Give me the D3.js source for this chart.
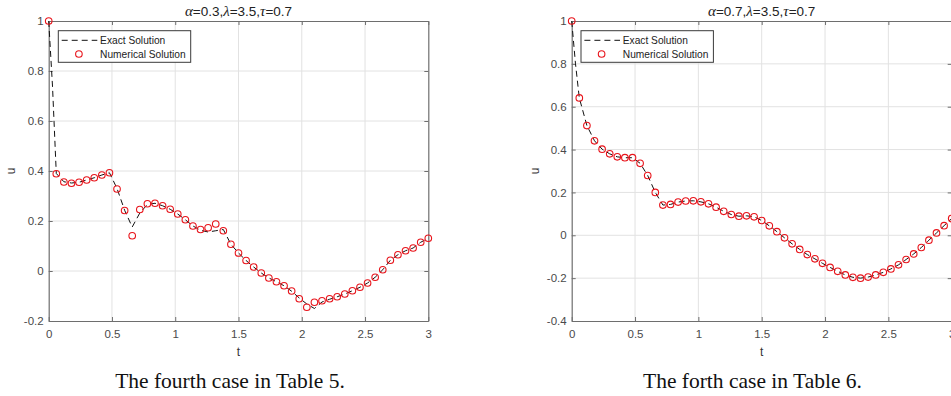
<!DOCTYPE html>
<html>
<head>
<meta charset="utf-8">
<script src="https://cdn.jsdelivr.net/npm/d3@7"></script>
<style>
  body { margin: 0; background: #fff; }
  svg text { font-family: Arial, "Liberation Sans", Helvetica, sans-serif; }
</style>
</head>
<body>
<svg id="chart" width="951" height="396"></svg>
<script>
// time grid of the numerical solution (step 0.06)
const tNum = [0, 0.06, 0.12, 0.18, 0.24, 0.30, 0.36, 0.42, 0.48, 0.54, 0.60, 0.66, 0.72, 0.78, 0.84, 0.90,
  0.96, 1.02, 1.08, 1.14, 1.20, 1.26, 1.32, 1.38, 1.44, 1.50, 1.56, 1.62, 1.68, 1.74, 1.80, 1.86, 1.92,
  1.98, 2.04, 2.10, 2.16, 2.22, 2.28, 2.34, 2.40, 2.46, 2.52, 2.58, 2.64, 2.70, 2.76, 2.82, 2.88, 2.94, 3.00];

// time grid of the exact solution curves
const tExact = [0, 0.03, 0.06, 0.12, 0.18, 0.24, 0.30, 0.36, 0.42, 0.48, 0.54, 0.60, 0.66, 0.72, 0.78, 0.84, 0.90,
  0.96, 1.02, 1.08, 1.14, 1.20, 1.26, 1.32, 1.38, 1.44, 1.50, 1.56, 1.62, 1.68, 1.74, 1.80, 1.86, 1.92,
  1.98, 2.04, 2.10, 2.16, 2.22, 2.28, 2.34, 2.40, 2.46, 2.52, 2.58, 2.64, 2.70, 2.76, 2.82, 2.88, 2.94, 3.00];

// case 4, Table 5 (alpha = 0.3)
const numU1 = [1, 0.389, 0.356, 0.351, 0.355, 0.364, 0.373, 0.384, 0.393, 0.328, 0.242, 0.141, 0.246, 0.269,
  0.271, 0.261, 0.247, 0.228, 0.205, 0.180, 0.166, 0.173, 0.188, 0.161, 0.107, 0.072, 0.042, 0.016, -0.008,
  -0.028, -0.043, -0.059, -0.080, -0.111, -0.145, -0.125, -0.119, -0.111, -0.103, -0.092, -0.079, -0.065,
  -0.048, -0.025, 0.005, 0.043, 0.065, 0.081, 0.092, 0.115, 0.131];
const exactU1 = [1, 0.74, 0.390, 0.357, 0.352, 0.355, 0.364, 0.373, 0.384, 0.393, 0.330, 0.243, 0.176, 0.232,
  0.266, 0.271, 0.261, 0.247, 0.228, 0.205, 0.180, 0.163, 0.156, 0.161, 0.166, 0.107, 0.072, 0.042, 0.016,
  -0.008, -0.028, -0.043, -0.059, -0.081, -0.108, -0.132, -0.150, -0.124, -0.113, -0.103, -0.092, -0.079,
  -0.065, -0.048, -0.025, 0.005, 0.043, 0.065, 0.081, 0.092, 0.115, 0.131];

// case 4, Table 6 (alpha = 0.7)
const numU2 = [1, 0.641, 0.512, 0.441, 0.402, 0.380, 0.366, 0.362, 0.362, 0.336, 0.279, 0.200, 0.141, 0.144,
  0.155, 0.160, 0.161, 0.156, 0.147, 0.131, 0.112, 0.097, 0.089, 0.091, 0.086, 0.069, 0.044, 0.017, -0.012,
  -0.040, -0.066, -0.090, -0.110, -0.131, -0.150, -0.168, -0.185, -0.196, -0.200, -0.195, -0.185, -0.173,
  -0.157, -0.138, -0.113, -0.087, -0.057, -0.023, 0.011, 0.045, 0.078];
const exactU2 = [1, 0.80, 0.641, 0.512, 0.441, 0.402, 0.380, 0.366, 0.362, 0.362, 0.336, 0.279, 0.200, 0.141,
  0.144, 0.155, 0.160, 0.161, 0.156, 0.147, 0.131, 0.112, 0.097, 0.089, 0.091, 0.086, 0.069, 0.044, 0.017,
  -0.012, -0.040, -0.066, -0.090, -0.110, -0.131, -0.150, -0.168, -0.185, -0.196, -0.200, -0.195, -0.185,
  -0.173, -0.157, -0.138, -0.113, -0.087, -0.057, -0.023, 0.011, 0.045, 0.078];

const xTicks = [0, 0.5, 1, 1.5, 2, 2.5, 3];
const yTicks1 = [-0.2, 0, 0.2, 0.4, 0.6, 0.8, 1];
const yTicks2 = [-0.4, -0.2, 0, 0.2, 0.4, 0.6, 0.8, 1];
const alphas = ['0.3', '0.7'];
const captions = ['The fourth case in Table 5.', 'The forth case in Table 6.'];
const legendLabels = ['Exact Solution', 'Numerical Solution'];

const svg = d3.select('#chart');

const panels = [
  { left: 48.7, right: 428.3, yDomain: [-0.2, 1], yTicks: yTicks1, exact: exactU1, num: numU1,
    alpha: alphas[0], caption: captions[0], capX: 230, ylabX: 15, legX: 58.3 },
  { left: 571.7, right: 951.7, yDomain: [-0.4, 1], yTicks: yTicks2, exact: exactU2, num: numU2,
    alpha: alphas[1], caption: captions[1], capX: 752.5, ylabX: 539, legX: 581 }
];

const plotTop = 21, plotBottom = 321;
const fmt = v => String(+v.toFixed(1));

panels.forEach(p => {
  const x = d3.scaleLinear().domain([0, 3]).range([p.left, p.right]);
  const y = d3.scaleLinear().domain(p.yDomain).range([plotBottom, plotTop]);
  const g = svg.append('g');

  // grid
  g.append('g').selectAll('line').data(xTicks.slice(1, -1)).enter().append('line')
    .attr('x1', d => x(d)).attr('x2', d => x(d)).attr('y1', plotTop).attr('y2', plotBottom)
    .attr('stroke', '#e2e2e2').attr('stroke-width', 1);
  g.append('g').selectAll('line').data(p.yTicks.slice(1, -1)).enter().append('line')
    .attr('x1', p.left).attr('x2', p.right).attr('y1', d => y(d)).attr('y2', d => y(d))
    .attr('stroke', '#e2e2e2').attr('stroke-width', 1);

  // axes (box with inward ticks)
  const axes = [
    g.append('g').attr('transform', `translate(0,${plotBottom})`)
      .call(d3.axisBottom(x).tickValues(xTicks).tickFormat(fmt).tickSize(-4).tickSizeOuter(0).tickPadding(9)),
    g.append('g').attr('transform', `translate(0,${plotTop})`)
      .call(d3.axisTop(x).tickValues(xTicks).tickFormat('').tickSize(-4).tickSizeOuter(0)),
    g.append('g').attr('transform', `translate(${p.left},0)`)
      .call(d3.axisLeft(y).tickValues(p.yTicks).tickFormat(fmt).tickSize(-4).tickSizeOuter(0).tickPadding(5)),
    g.append('g').attr('transform', `translate(${p.right},0)`)
      .call(d3.axisRight(y).tickValues(p.yTicks).tickFormat('').tickSize(-4).tickSizeOuter(0))
  ];
  axes.forEach(a => {
    a.select('.domain').attr('stroke', '#6e6e6e').attr('stroke-width', 1.2);
    a.selectAll('.tick line').attr('stroke', '#6e6e6e');
    a.selectAll('.tick text').attr('fill', '#4a4a4a').style('font-size', '11.5px');
  });

  // exact solution
  const line = d3.line().x((d, i) => x(tExact[i])).y(d => y(d));
  g.append('path').datum(p.exact)
    .attr('d', line)
    .attr('fill', 'none').attr('stroke', '#111').attr('stroke-width', 1)
    .attr('stroke-dasharray', '6,4');

  // numerical solution
  g.append('g').selectAll('circle').data(p.num).enter().append('circle')
    .attr('cx', (d, i) => x(tNum[i])).attr('cy', d => y(d)).attr('r', 3.3)
    .attr('fill', 'none').attr('stroke', '#e8141b').attr('stroke-width', 1.1);

  // title
  const mid = (p.left + p.right) / 2;
  const title = g.append('text').attr('x', mid).attr('y', 16).attr('text-anchor', 'middle')
    .attr('fill', '#222').style('font-size', '13.5px');
  const parts = [['α', true], ['=' + p.alpha + ',', false], ['λ', true], ['=3.5,', false], ['τ', true], ['=0.7', false]];
  parts.forEach(([s, greek]) => {
    const ts = title.append('tspan').text(s);
    if (greek) ts.style('font-family', '"Liberation Serif", "DejaVu Serif", serif').style('font-style', 'italic').style('font-size', '15px');
  });

  // axis labels
  g.append('text').attr('x', mid).attr('y', 355.5).attr('text-anchor', 'middle')
    .attr('fill', '#333').style('font-size', '12px').text('t');
  g.append('text').attr('transform', `translate(${p.ylabX},171) rotate(-90)`).attr('text-anchor', 'middle')
    .attr('fill', '#333').style('font-size', '12px').text('u');

  // legend
  const lg = g.append('g').attr('transform', `translate(${p.legX},30.7)`);
  lg.append('rect').attr('width', 132.4).attr('height', 31.6)
    .attr('fill', '#fff').attr('stroke', '#3a3a3a').attr('stroke-width', 1);
  lg.append('line').attr('x1', 3.4).attr('x2', 39).attr('y1', 9.6).attr('y2', 9.6)
    .attr('stroke', '#111').attr('stroke-width', 1).attr('stroke-dasharray', '6,4');
  lg.append('circle').attr('cx', 20.6).attr('cy', 23.3).attr('r', 3.3)
    .attr('fill', 'none').attr('stroke', '#e8141b').attr('stroke-width', 1.1);
  lg.selectAll('text.leg').data(legendLabels).enter().append('text').attr('class', 'leg')
    .attr('x', 41.8).attr('y', (d, i) => 13.3 + i * 13.9)
    .attr('fill', '#222').style('font-size', '10.2px').text(d => d);

  // caption
  svg.append('text').attr('x', p.capX).attr('y', 388).attr('text-anchor', 'middle')
    .style('font-family', '"Liberation Serif", "Times New Roman", serif').style('font-size', '21.5px')
    .attr('fill', '#111').text(p.caption);
});
</script>
</body>
</html>
